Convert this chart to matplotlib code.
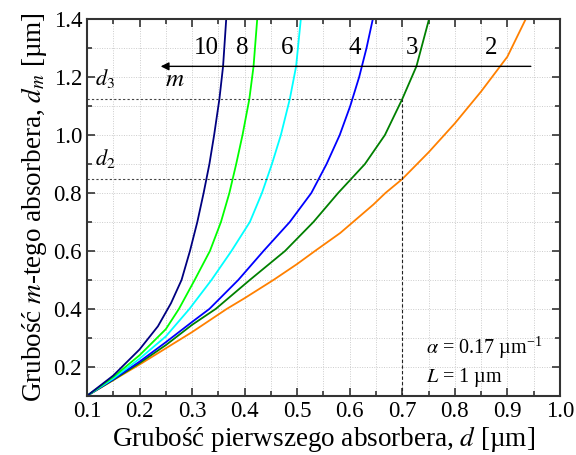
import matplotlib
matplotlib.use("Agg")
import matplotlib.pyplot as plt
from matplotlib.ticker import MultipleLocator, FormatStrFormatter

plt.rcParams['font.family'] = ['Liberation Serif', 'DejaVu Serif']
plt.rcParams['mathtext.fontset'] = 'stix'

# d (first absorber) vs d_m for each m
d_m2 = [0.1, 0.15, 0.2, 0.3, 0.366, 0.4, 0.455, 0.5, 0.534, 0.582, 0.645, 0.668, 0.7, 0.75, 0.8, 0.85, 0.9, 0.935]
y_m2 = [0.1, 0.154, 0.208, 0.32, 0.40, 0.437, 0.5, 0.555, 0.6, 0.662, 0.76, 0.8, 0.848, 0.94, 1.04, 1.15, 1.27, 1.4]

d_m3 = [0.1, 0.15, 0.2, 0.25, 0.3, 0.345, 0.41, 0.477, 0.531, 0.578, 0.629, 0.667, 0.7, 0.727, 0.751]
y_m3 = [0.1, 0.155, 0.213, 0.275, 0.345, 0.4, 0.5, 0.6, 0.7, 0.8, 0.9, 1.0, 1.124, 1.237, 1.4]

d_m4 = [0.1, 0.15, 0.2, 0.25, 0.3, 0.333, 0.388, 0.436, 0.486, 0.527, 0.556, 0.581, 0.601, 0.618, 0.632, 0.644]
y_m4 = [0.1, 0.157, 0.218, 0.285, 0.355, 0.4, 0.5, 0.6, 0.7, 0.8, 0.9, 1.0, 1.1, 1.2, 1.3, 1.4]

d_m6 = [0.1, 0.15, 0.2, 0.25, 0.295, 0.337, 0.375, 0.41, 0.433, 0.452, 0.469, 0.486, 0.498, 0.507]
y_m6 = [0.1, 0.16, 0.228, 0.305, 0.4, 0.5, 0.6, 0.7, 0.8, 0.9, 1.0, 1.124, 1.237, 1.4]

d_m8 = [0.1, 0.15, 0.2, 0.25, 0.275, 0.305, 0.334, 0.355, 0.371, 0.384, 0.396, 0.409, 0.417, 0.424]
y_m8 = [0.1, 0.165, 0.24, 0.33, 0.4, 0.5, 0.6, 0.7, 0.8, 0.9, 1.0, 1.124, 1.237, 1.4]

d_m10 = [0.1, 0.15, 0.2, 0.235, 0.26, 0.28, 0.296, 0.31, 0.322, 0.333, 0.342, 0.352, 0.359, 0.365]
y_m10 = [0.1, 0.17, 0.26, 0.34, 0.42, 0.5, 0.6, 0.7, 0.8, 0.9, 1.0, 1.124, 1.237, 1.4]

m_labels = ['10', '8', '6', '4', '3', '2']
m_label_x = [0.328, 0.395, 0.48, 0.61, 0.718, 0.87]

d_point = 0.7
d2_val = 0.848
d3_val = 1.124

fig = plt.figure(figsize=(5.76, 4.55), dpi=100)
ax = fig.add_axes([0.151, 0.130, 0.821, 0.828])

lw = 1.3
ax.plot(d_m2, y_m2, color='#ff8000', lw=lw)
ax.plot(d_m3, y_m3, color='#008000', lw=lw)
ax.plot(d_m4, y_m4, color='#0000ff', lw=lw)
ax.plot(d_m6, y_m6, color='#00ffff', lw=lw)
ax.plot(d_m8, y_m8, color='#00ff00', lw=lw)
ax.plot(d_m10, y_m10, color='#000080', lw=lw)

# dashed guide lines
ax.plot([0.1, d_point], [d3_val, d3_val], color='#444444', ls=(0, (2, 2)), lw=0.8)
ax.plot([0.1, d_point], [d2_val, d2_val], color='#444444', ls=(0, (2, 2)), lw=0.8)
ax.plot([d_point, d_point], [0.1, d3_val], color='#222222', ls=(0, (3, 2)), lw=0.8)

ax.text(0.115, d3_val + 0.03, '$d_3$', fontsize=16, ha='left', va='bottom')
ax.text(0.115, d2_val + 0.03, '$d_2$', fontsize=16, ha='left', va='bottom')

# m arrow
ax.annotate('', xy=(0.235, 1.237), xytext=(0.95, 1.237),
            arrowprops=dict(arrowstyle='-|>', color='black', lw=1.0, mutation_scale=12))
ax.text(0.268, 1.19, '$m$', fontsize=18, ha='center', va='center')
for lab, xx in zip(m_labels, m_label_x):
    ax.text(xx, 1.30, lab, fontsize=18, ha='center', va='center')

ax.text(0.745, 0.265, r'$\alpha$ = 0.17 µm$^{\mathregular{-1}}$', fontsize=14.5, ha='left', va='center')
ax.text(0.745, 0.162, '$L$ = 1 µm', fontsize=14.5, ha='left', va='center')

ax.set_xlim(0.1, 1.0)
ax.set_ylim(0.1, 1.4)
ax.xaxis.set_major_locator(MultipleLocator(0.1))
ax.xaxis.set_minor_locator(MultipleLocator(0.05))
ax.yaxis.set_major_locator(MultipleLocator(0.2))
ax.yaxis.set_minor_locator(MultipleLocator(0.1))
ax.set_yticks([0.2, 0.4, 0.6, 0.8, 1.0, 1.2, 1.4])
ax.xaxis.set_major_formatter(FormatStrFormatter('%.1f'))
ax.yaxis.set_major_formatter(FormatStrFormatter('%.1f'))

ax.grid(True, which='both', color='#cccccc', ls=(0, (1, 1.5)), lw=0.7)
ax.tick_params(which='both', direction='in', top=True, right=True, labelsize=16.5, width=1.2, color='#333333')
ax.tick_params(which='major', length=6)
ax.tick_params(which='minor', length=3.5)
for s in ax.spines.values():
    s.set_linewidth(1.5)
    s.set_color('#333333')

ax.set_xlabel('Grubość pierwszego absorbera, $d$ [µm]', fontsize=19.5, labelpad=2)
ax.set_ylabel('Grubość $m$-tego absorbera, $d_m$ [µm]', fontsize=19.5, labelpad=3)

fig.savefig('out.png', dpi=100)
